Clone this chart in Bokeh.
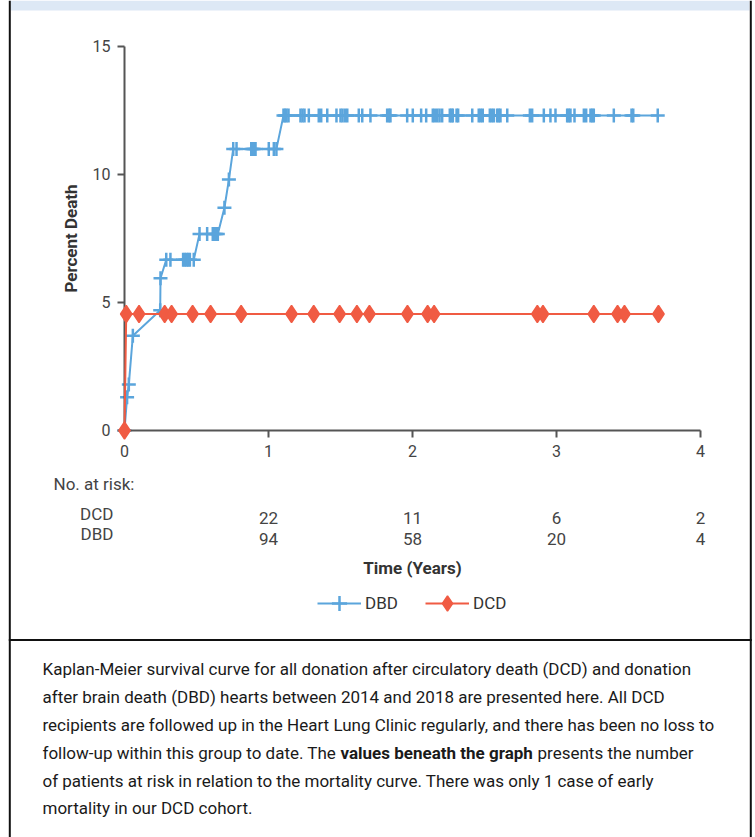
import math
from bokeh.plotting import figure
from bokeh.models import (Range1d, Label, LabelSet, ColumnDataSource, BoxAnnotation,
                          Legend, LegendItem, FixedTicker)
from bokeh.core.properties import value
from bokeh.embed import file_html
from bokeh.resources import INLINE

# ---------------- data ----------------
dbd_time = [0, 0.018, 0.03, 0.058, 0.248, 0.25, 0.29, 0.319, 0.407, 0.419, 0.431, 0.442, 0.454, 0.481,
            0.521, 0.574, 0.613, 0.625, 0.637, 0.648, 0.694, 0.725, 0.755, 0.778, 0.880, 0.889, 0.898,
            0.910, 1.002, 1.037, 1.055,
            1.104, 1.115, 1.125, 1.139, 1.222, 1.236, 1.25, 1.28, 1.349, 1.366, 1.408, 1.472, 1.5, 1.514,
            1.531, 1.547, 1.627, 1.651, 1.708, 1.824, 1.837, 1.847, 1.963, 2.002, 2.06, 2.095, 2.141,
            2.155, 2.172, 2.188, 2.206, 2.259, 2.271, 2.28, 2.306, 2.317, 2.415, 2.46, 2.474, 2.488,
            2.537, 2.551, 2.565, 2.588, 2.599, 2.611, 2.658, 2.815, 2.831, 2.912, 2.958, 2.993, 3.074,
            3.085, 3.097, 3.125, 3.19, 3.206, 3.236, 3.248, 3.259, 3.398, 3.521, 3.533, 3.703]
dbd_pct = ([0, 1.3, 1.8, 3.7, 4.7, 5.95]
           + [6.67] * 8
           + [7.68] * 6
           + [8.7, 9.8]
           + [11.0] * 9
           + [12.3] * 65)

dcd_time = [0, 0.012, 0.101, 0.279, 0.327, 0.473, 0.598, 0.810, 1.160, 1.314, 1.494, 1.614, 1.701,
            1.965, 2.105, 2.150, 2.867, 2.906, 3.259, 3.424, 3.472, 3.708]
dcd_pct = [0] + [4.55] * 21

risk_times = [1, 2, 3, 4]
risk_dcd = ["22", "11", "6", "2"]
risk_dbd = ["94", "58", "20", "4"]
x_ticks = [0, 1, 2, 3, 4]
y_ticks = [0, 5, 10, 15]

caption_lines = [
    "Kaplan-Meier survival curve for all donation after circulatory death (DCD) and donation",
    "after brain death (DBD) hearts between 2014 and 2018 are presented here. All DCD",
    "recipients are followed up in the Heart Lung Clinic regularly, and there has been no loss to",
    "follow-up within this group to date. The",
    "of patients at risk in relation to the mortality curve. There was only 1 case of early",
    "mortality in our DCD cohort.",
]
caption_bold = "values beneath the graph"
caption_after_bold = "presents the number"

BLUE = "#5BA5DC"
RED = "#F05B43"
FONT = "Roboto"
TXT = "17px"

W, H = 755, 837
PXU_X, PXU_Y = 144.0, 25.6   # pixels per data unit
X0, Y0 = 124.0, 430.0        # pixel position of the origin


def tx(px):   # canvas x -> data x
    return (px - X0) / PXU_X


def ty(py):   # canvas y -> data y
    return (Y0 - py) / PXU_Y


p = figure(frame_width=W, frame_height=H, output_backend="svg", toolbar_location=None,
           x_range=Range1d(tx(0), tx(W)), y_range=Range1d(ty(H), ty(0)),
           x_axis_location="above", y_axis_location="right",
           min_border=0, min_border_left=0, min_border_right=0, min_border_top=0,
           min_border_bottom=0)
p.outline_line_color = None
p.xgrid.visible = False
p.ygrid.visible = False
p.background_fill_color = "white"
p.border_fill_color = "white"

for ax in (p.xaxis[0], p.yaxis[0]):
    ax.fixed_location = 0
    ax.axis_line_color = "#555555"
    ax.axis_line_width = 2
    ax.major_tick_line_color = "#555555"
    ax.major_tick_line_width = 2
    ax.major_tick_out = 0
    ax.major_tick_in = 7
    ax.minor_tick_out = 0
    ax.minor_tick_in = 0
    ax.major_label_text_font = FONT
    ax.major_label_text_font_size = "16px"
    ax.major_label_text_color = "#444444"

p.xaxis.major_label_standoff = -26
p.yaxis.major_label_standoff = -32
p.xaxis.bounds = (0, 4)
p.yaxis.bounds = (0, 15)
p.xaxis.ticker = FixedTicker(ticks=x_ticks)
p.yaxis.ticker = FixedTicker(ticks=y_ticks)
p.yaxis.major_label_overrides = {t: ("\u2007" + str(t) if t < 10 else str(t)) for t in y_ticks}

# series
dbd_src = ColumnDataSource(dict(t=dbd_time, v=dbd_pct))
dcd_src = ColumnDataSource(dict(t=dcd_time, v=dcd_pct))
l1 = p.line("t", "v", source=dbd_src, line_color=BLUE, line_width=2)
m1 = p.scatter("t", "v", source=dbd_src, marker="cross", size=14,
               line_color=BLUE, line_width=2.5)
l2 = p.line("t", "v", source=dcd_src, line_color=RED, line_width=2, level="overlay")
m2 = p.scatter("t", "v", source=dcd_src, marker="diamond", size=17,
               fill_color=RED, line_color=RED, line_width=1.5, level="overlay")

LEG_H = 38
legend = Legend(items=[LegendItem(label="DBD", renderers=[l1, m1]),
                       LegendItem(label="DCD", renderers=[l2, m2])],
                orientation="horizontal", location=(317, H - (603 + LEG_H / 2)),
                border_line_color=None, background_fill_alpha=0,
                label_text_font=FONT, label_text_font_size=TXT, label_text_color="#333333",
                glyph_width=44, glyph_height=LEG_H, label_height=LEG_H, label_width=40,
                label_standoff=4, spacing=20, padding=0, margin=0)
p.add_layout(legend)


def lab(text, px, py, align="left", bold=False, size=TXT, color="#333333", angle=0):
    p.add_layout(Label(x=tx(px), y=ty(py), text=text, text_font=FONT, text_font_size=size,
                       text_align=align, text_baseline="middle", text_color=color, angle=angle,
                       text_font_style="bold" if bold else "normal"))


lab("Percent Death", 70, 238, align="center", bold=True, angle=math.pi / 2)

# number at risk
lab("No. at risk:", 53, 483, color="#444444")
lab("DCD", 113, 513, align="right", color="#444444")
lab("DBD", 113, 533, align="right", color="#444444")
risk_src = ColumnDataSource(dict(t=risk_times, dcd=risk_dcd, dbd=risk_dbd,
                                 y1=[ty(517)] * 4, y2=[ty(538)] * 4))
for col, ycol in (("dcd", "y1"), ("dbd", "y2")):
    p.add_layout(LabelSet(x="t", y=ycol, text=col, source=risk_src, text_font=value(FONT),
                          text_font_size=value(TXT), text_align="center", text_baseline="middle",
                          text_color="#444444"))
lab("Time (Years)", 412, 567, align="center", bold=True)

# frame decorations
p.add_layout(BoxAnnotation(left=tx(10), right=tx(749), top=ty(0), bottom=ty(10),
                           fill_color="#dde8f5", fill_alpha=1, line_color=None, level="underlay"))
p.add_layout(BoxAnnotation(left=tx(8.3), right=tx(10.3), top=ty(0), bottom=ty(H),
                           fill_color="#111111", fill_alpha=1, line_color=None))
p.add_layout(BoxAnnotation(left=tx(749.3), right=tx(751.3), top=ty(0), bottom=ty(H),
                           fill_color="#111111", fill_alpha=1, line_color=None))
p.add_layout(BoxAnnotation(left=tx(8.3), right=tx(751.3), top=ty(638.4), bottom=ty(640.6),
                           fill_color="#111111", fill_alpha=1, line_color=None))

# caption
CAP = "17px"
ys = [668.4, 696.3, 724.2, 752.1, 780.0, 807.9]
for i, line in enumerate(caption_lines):
    lab(line, 42, ys[i], color="#1a1a1a", size=CAP)
lab(caption_bold, 340, ys[3], bold=True, color="#1a1a1a", size=CAP)
lab(caption_after_bold, 537, ys[3], color="#1a1a1a", size=CAP)

open("out.html", "w").write(file_html(p, INLINE))
